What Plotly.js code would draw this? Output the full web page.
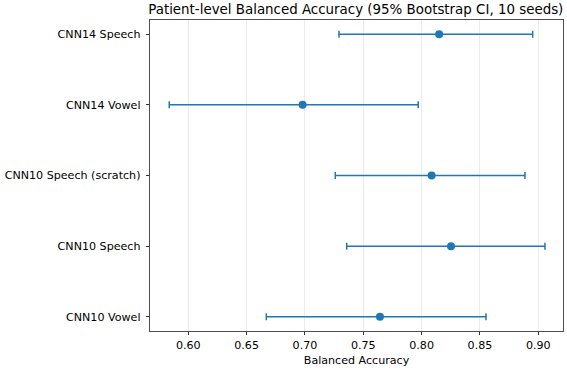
<!DOCTYPE html>
<html>
<head>
<meta charset="utf-8">
<script src="https://cdn.plot.ly/plotly-3.0.1.min.js"></script>
<style>html,body{margin:0;padding:0;background:#fff;}#chart{width:567px;height:374px;}</style>
</head>
<body>
<div id="chart"></div>
<script>
const models = ["CNN14 Speech", "CNN14 Vowel", "CNN10 Speech (scratch)", "CNN10 Speech", "CNN10 Vowel"];
const meanAcc = [0.815, 0.698, 0.8086, 0.8252, 0.7643];
const ciLow = [0.7292, 0.5837, 0.7260, 0.7358, 0.6669];
const ciHigh = [0.8952, 0.7971, 0.8886, 0.9057, 0.8552];
const xTicks = [0.60, 0.65, 0.70, 0.75, 0.80, 0.85, 0.90];
const xTickLabels = ["0.60", "0.65", "0.70", "0.75", "0.80", "0.85", "0.90"];

const plus = meanAcc.map((m, i) => ciHigh[i] - m);
const minus = meanAcc.map((m, i) => m - ciLow[i]);
const color = "#1f77b4";
const font = "DejaVu Sans, sans-serif";
const fs = 11.1;

const trace = {
  type: "scatter",
  mode: "markers",
  x: meanAcc,
  y: models,
  marker: {color: color, size: 8},
  error_x: {type: "data", symmetric: false, array: plus, arrayminus: minus,
            color: color, thickness: 1.5, width: 3.5},
  hoverinfo: "x+y"
};

const layout = {
  width: 567, height: 374,
  margin: {l: 150, r: 4, t: 20, b: 43},
  paper_bgcolor: "#fff", plot_bgcolor: "#fff",
  showlegend: false,
  font: {family: font, size: fs, color: "#000"},
  title: {text: "Patient-level Balanced Accuracy (95% Bootstrap CI, 10 seeds)",
          font: {family: font, size: 13.4, color: "#000"},
          x: 0.6275, xanchor: "center", y: 0.976, yanchor: "middle"},
  xaxis: {
    range: [0.5672, 0.9212],
    tickvals: xTicks, ticktext: xTickLabels,
    ticks: "outside", ticklen: 3.5, tickwidth: 0.8, tickcolor: "#000",
    showgrid: true, gridcolor: "#e6e6e6", gridwidth: 0.8,
    showline: true, linecolor: "#222", linewidth: 0.8, mirror: true,
    zeroline: false,
    tickfont: {family: font, size: fs, color: "#000"},
    title: {text: "Balanced Accuracy", font: {family: font, size: fs, color: "#000"}, standoff: 5}
  },
  yaxis: {
    type: "category",
    categoryorder: "array", categoryarray: models,
    range: [4.2, -0.2],
    ticks: "outside", ticklen: 3.5, tickwidth: 0.8, tickcolor: "#000",
    ticklabelstandoff: 3,
    showgrid: false,
    showline: true, linecolor: "#222", linewidth: 0.8, mirror: true,
    zeroline: false,
    tickfont: {family: font, size: fs, color: "#000"}
  }
};

Plotly.newPlot("chart", [trace], layout, {displayModeBar: false, staticPlot: true});
</script>
</body>
</html>
